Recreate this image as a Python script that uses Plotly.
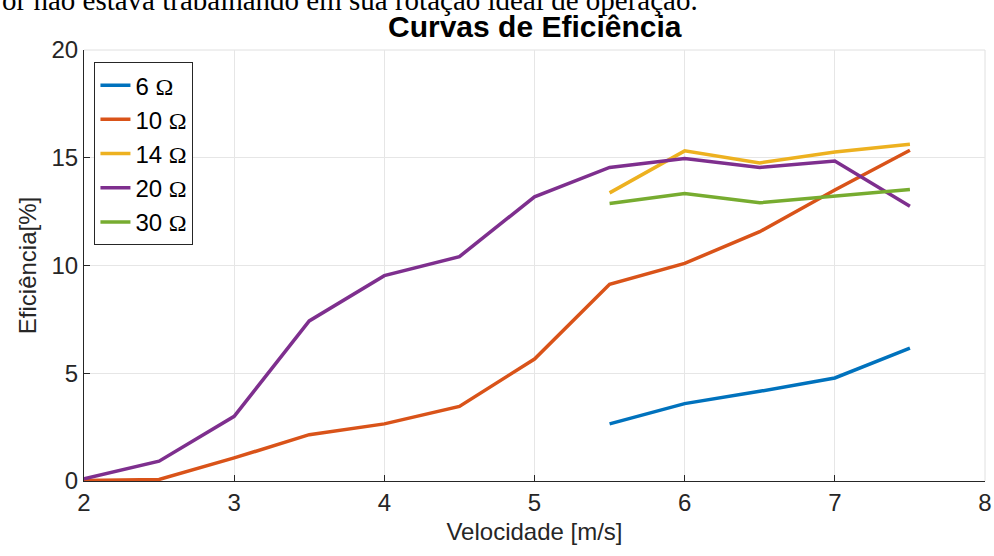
import plotly.graph_objects as go

velocidade = [2, 2.5, 3, 3.5, 4, 4.5, 5, 5.5, 6, 6.5, 7, 7.5]
vel_hi = [5.5, 6, 6.5, 7, 7.5]

ef_6 = [2.65, 3.59, 4.16, 4.78, 6.17]
ef_10 = [0.02, 0.07, 1.07, 2.15, 2.65, 3.46, 5.66, 9.13, 10.1, 11.57, 13.5, 15.35]
ef_14 = [13.37, 15.32, 14.76, 15.27, 15.63]
ef_20 = [0.1, 0.92, 3.0, 7.43, 9.53, 10.41, 13.19, 14.55, 14.96, 14.55, 14.85, 12.75]
ef_30 = [12.88, 13.34, 12.91, 13.22, 13.53]

labels = ["6", "10", "14", "20", "30"]
colors = ["#0072BD", "#D95319", "#EDB120", "#7E2F8E", "#77AC30"]
xs = [vel_hi, velocidade, vel_hi, velocidade, vel_hi]
ys = [ef_6, ef_10, ef_14, ef_20, ef_30]

x_ticks = [2, 3, 4, 5, 6, 7, 8]
y_ticks = [0, 5, 10, 15, 20]

sans = "Liberation Sans, Arial, sans-serif"
serif = "Liberation Serif, Times New Roman, serif"

fig = go.Figure()
for lab, c, x, y in zip(labels, colors, xs, ys):
    fig.add_trace(go.Scatter(
        x=x, y=y, mode="lines",
        line=dict(color=c, width=3.5),
        name=f"{lab} <span style=\"font-family:'Liberation Serif'\">Ω</span>",
    ))

fig.update_layout(
    width=994, height=556,
    margin=dict(l=83.5, r=9, t=50, b=74.5),
    paper_bgcolor="white", plot_bgcolor="white",
    font=dict(family=sans, size=24, color="#262626"),
    showlegend=True,
    legend=dict(
        x=0.0116, y=0.972, xanchor="left", yanchor="top",
        bgcolor="white", bordercolor="#262626", borderwidth=1,
        font=dict(family=sans, size=24, color="black"),
        tracegroupgap=0, itemwidth=30,
    ),
    xaxis=dict(
        range=[2, 8], tickvals=x_ticks, ticktext=[str(v) for v in x_ticks],
        showgrid=True, gridcolor="#e6e6e6", gridwidth=1,
        showline=True, linecolor="#262626", linewidth=1,
        ticks="inside", ticklen=6, tickcolor="#262626",
        zeroline=False, automargin=False,
        title=dict(text="Velocidade [m/s]", standoff=8, font=dict(size=24, color="#262626")),
    ),
    yaxis=dict(
        range=[0, 20], tickvals=y_ticks, ticktext=[str(v) for v in y_ticks],
        showgrid=True, gridcolor="#e6e6e6", gridwidth=1,
        showline=True, linecolor="#262626", linewidth=1,
        ticks="inside", ticklen=6, tickcolor="#262626",
        zeroline=False, automargin=False,
        title=dict(text="Eficiência[%]", standoff=8, font=dict(size=24, color="#262626")),
    ),
    shapes=[
        dict(type="line", xref="paper", yref="paper", x0=0, x1=1, y0=1, y1=1,
             line=dict(color="#e0e0e0", width=1), layer="below"),
        dict(type="line", xref="paper", yref="paper", x0=1, x1=1, y0=0, y1=1,
             line=dict(color="#e0e0e0", width=1), layer="below"),
    ],
    annotations=[
        dict(text="<b>Curvas de Eficiência</b>", xref="paper", yref="paper",
             x=0.5, y=1, yshift=5, xanchor="center", yanchor="bottom", showarrow=False,
             font=dict(family=sans, size=30, color="black")),
        dict(text="or não estava trabalhando em sua rotação ideal de operação.",
             xref="paper", yref="paper", x=-0.093, y=1, yshift=32,
             xanchor="left", yanchor="bottom", showarrow=False,
             font=dict(family=serif, size=29, color="black")),
    ],
)

fig.write_html(
    "out.html",
    config={"displayModeBar": False},
    post_script="document.body.style.margin='0';document.body.style.padding='0';",
)
